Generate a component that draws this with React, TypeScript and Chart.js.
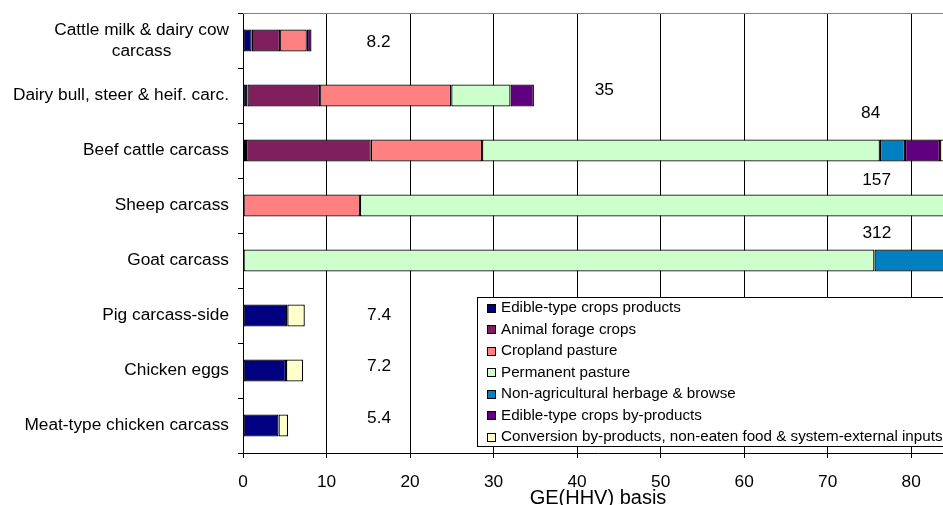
import React, { useEffect, useRef } from "react";
import { Chart, registerables } from "chart.js";

Chart.register(...registerables);

const FONT = '"Liberation Sans", Arial, sans-serif';

const categories: (string | string[])[] = [
  ["Cattle milk & dairy cow", "carcass"],
  "Dairy bull, steer & heif. carc.",
  "Beef cattle carcass",
  "Sheep carcass",
  "Goat carcass",
  "Pig carcass-side",
  "Chicken eggs",
  "Meat-type chicken carcass",
];

const seriesNames = [
  "Edible-type crops products",
  "Animal forage crops",
  "Cropland pasture",
  "Permanent pasture",
  "Non-agricultural herbage & browse",
  "Edible-type crops by-products",
  "Conversion by-products, non-eaten food & system-external inputs",
];

const edibleCrops = [1.04, 0.53, 0.36, null, null, 5.3, 5.15, 4.25];
const forageCrops = [3.4, 8.7, 14.93, null, null, null, null, null];
const croplandPasture = [3.2, 15.7, 13.33, 14.0, null, null, null, null];
const permanentPasture = [null, 7.1, 47.63, 118, 75.6, null, null, null];
const nonAgriHerbage = [null, null, 3.0, 20, 236.4, null, null, null];
const edibleByproducts = [0.56, 2.8, 4.2, 5, null, null, null, null];
const conversionInputs = [null, null, 0.55, null, null, 2.1, 2.05, 1.15];

const totals = ["8.2", "35", "84", "157", "312", "7.4", "7.2", "5.4"];

// where each total label sits (x in axis units, y as offset from category centre)
const totalLabelX = [16.23, 43.26, 75.15, 75.86, 75.89, 16.29, 16.29, 16.29];
const totalLabelDy = [0.03, -0.1, -0.68, -0.46, -0.5, 0.0, -0.07, -0.14];

const colors = ["#000080", "#801F5E", "#FF8080", "#CCFFCC", "#0080C0", "#60007F", "#FFFFCC"];

const xTicks = { min: 0, max: 85, step: 10 };

export default function App() {
  const ref = useRef<HTMLCanvasElement | null>(null);

  useEffect(() => {
    if (!ref.current) return;
    const seriesData = [
      edibleCrops,
      forageCrops,
      croplandPasture,
      permanentPasture,
      nonAgriHerbage,
      edibleByproducts,
      conversionInputs,
    ];

    const overlay = {
      id: "overlay",
      afterDraw(chart: any) {
        const ctx = chart.ctx as CanvasRenderingContext2D;
        const { left, right, top } = chart.chartArea;
        const xs = chart.scales.x;
        const ys = chart.scales.y;
        ctx.save();
        // top border of plot
        ctx.strokeStyle = "#808080";
        ctx.lineWidth = 1;
        ctx.beginPath();
        ctx.moveTo(left, Math.round(top) + 0.5);
        ctx.lineTo(right, Math.round(top) + 0.5);
        ctx.stroke();

        // category labels
        ctx.fillStyle = "#000";
        ctx.font = `17.3px ${FONT}`;
        ctx.textBaseline = "middle";
        const labelRight = left - 14;
        categories.forEach((c, i) => {
          const cy = ys.getPixelForValue(i);
          if (Array.isArray(c)) {
            const w = Math.max(...c.map((s) => ctx.measureText(s).width));
            const lh = 21;
            ctx.textAlign = "center";
            c.forEach((s, k) => {
              ctx.fillText(s, labelRight - w / 2, cy + (k - (c.length - 1) / 2) * lh);
            });
          } else {
            ctx.textAlign = "right";
            ctx.fillText(c, labelRight, cy);
          }
        });

        // totals
        ctx.textAlign = "center";
        totals.forEach((t, i) => {
          ctx.fillText(t, xs.getPixelForValue(totalLabelX[i]), ys.getPixelForValue(i + totalLabelDy[i]));
        });

        // axis title
        ctx.font = `20px ${FONT}`;
        ctx.fillText("GE(HHV) basis", (left + right) / 2, 498.5);

        // legend
        const lx = 477.5, ly = 297.5, lw = 600, lh = 149;
        ctx.fillStyle = "#fff";
        ctx.fillRect(lx, ly, lw, lh);
        ctx.strokeStyle = "#000";
        ctx.strokeRect(lx, ly, lw, lh);
        ctx.font = `15.2px ${FONT}`;
        ctx.textAlign = "left";
        seriesNames.forEach((n, k) => {
          const iy = 308 + k * 21.5;
          ctx.fillStyle = colors[k];
          ctx.fillRect(487.5, Math.round(iy - 4.5) + 0.5, 8, 8);
          ctx.strokeStyle = "#000";
          ctx.strokeRect(487.5, Math.round(iy - 4.5) + 0.5, 8, 8);
          ctx.fillStyle = "#000";
          ctx.fillText(n, 501, iy);
        });
        ctx.restore();
      },
    };

    const chart = new Chart(ref.current, {
      type: "bar",
      data: {
        labels: categories.map((c) => (Array.isArray(c) ? c.join(" ") : c)),
        datasets: seriesNames.map((n, k) => ({
          label: n,
          data: seriesData[k] as any,
          backgroundColor: colors[k],
          borderColor: "#000",
          borderWidth: 1.3,
          borderSkipped: false,
          categoryPercentage: 1,
          barPercentage: 0.4,
        })),
      },
      options: {
        indexAxis: "y",
        responsive: false,
        animation: false,
        devicePixelRatio: 1,
        layout: { padding: { top: 13, right: 7, left: 0, bottom: 0 } },
        plugins: { legend: { display: false }, tooltip: { enabled: false }, title: { display: false } },
        scales: {
          x: {
            stacked: true,
            min: xTicks.min,
            max: xTicks.max,
            ticks: {
              stepSize: xTicks.step,
              includeBounds: false,
              color: "#000",
              font: { family: FONT, size: 17.3 },
              padding: 14,
              maxRotation: 0,
            },
            grid: { color: "#000", lineWidth: 1, tickLength: 5, drawTicks: true },
            border: { display: true, color: "#000", width: 1 },
            afterFit(scale: any) {
              scale.height = 52;
            },
          },
          y: {
            stacked: true,
            ticks: { display: false },
            grid: { drawOnChartArea: false, drawTicks: true, tickLength: 5, color: "#000", offset: true },
            border: { display: true, color: "#000", width: 1 },
            afterFit(scale: any) {
              scale.width = 243;
            },
          },
        },
      },
      plugins: [overlay],
    } as any);
    return () => chart.destroy();
  }, []);

  return (
    <div
      style={{
        position: "fixed",
        left: 0,
        top: 0,
        width: 943,
        height: 505,
        overflow: "hidden",
        background: "#fff",
      }}
    >
      <canvas ref={ref} width={960} height={505} style={{ display: "block", width: 960, height: 505 }} />
    </div>
  );
}
